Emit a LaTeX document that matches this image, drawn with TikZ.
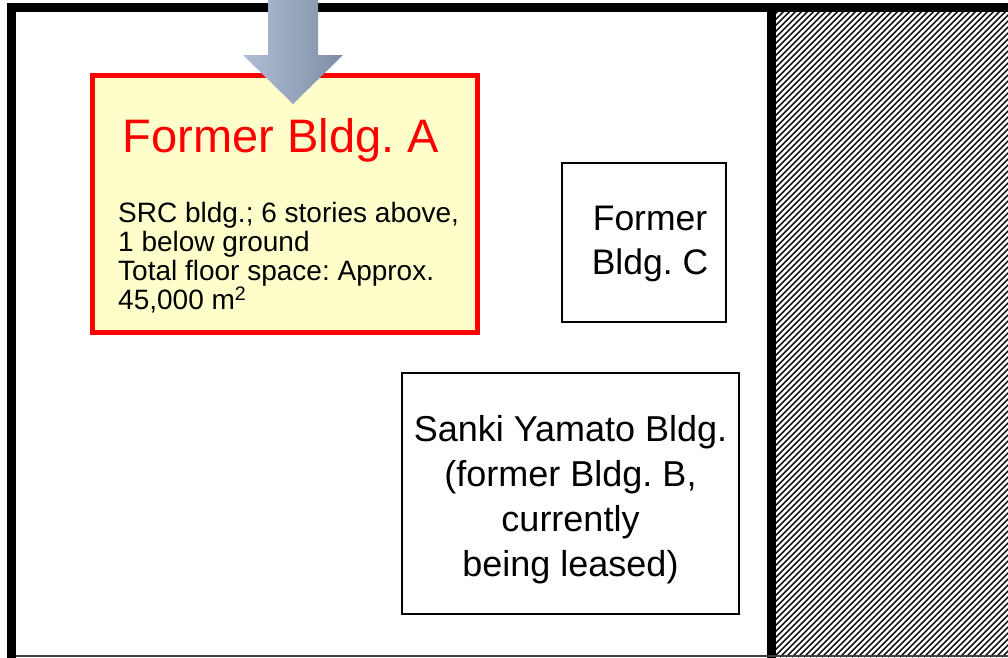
\documentclass[tikz,border=0pt]{standalone}
\usepackage{fontspec}
\setmainfont{Liberation Sans}
\usepackage[x11names, rgb]{xcolor}
\frenchspacing

\begin{document}
\begin{tikzpicture}[x=1pt, y=-1pt]

\definecolor{bldg_red}{HTML}{FF0000}
\definecolor{bldg_yellow}{HTML}{FFFFCC}
\definecolor{arrow_light}{HTML}{CCDBF2}
\definecolor{arrow_left}{HTML}{B0BFD6}
\definecolor{arrow_right}{HTML}{7F8DA3}

\tikzset{
  plainbox/.style={draw=black, line width=1.5pt, fill=white, inner sep=0pt},
  boxtext/.style={font=\fontsize{36}{45}\selectfont, align=center, inner sep=0pt}
}

\useasboundingbox (0,0) rectangle (1008,657);

% hatched area on the right
\begin{scope}
\clip (776,11) rectangle (1008,657);
\foreach \i in {120,126,...,1010}
  \draw[line width=1.4pt] (\i,657) -- ++(700,-700);
\end{scope}

% site frame
\draw[line width=9pt] (1012,7.5) -- (11.5,7.5) -- (11.5,660);
\draw[line width=9pt] (771.5,3) -- (771.5,660);
\draw[line width=2pt, black!75] (16,655.5) -- (1008,655.5);

% former building A
\node[draw=bldg_red, line width=5pt, fill=bldg_yellow, minimum width=385pt, minimum height=257pt, inner sep=0pt] (bldgA) at (285,203.5) {};
\node[anchor=base, text=bldg_red, font=\fontsize{47}{56}\selectfont, inner sep=0pt] (titleA) at (281,152) {Former Bldg. A};
\node[anchor=north west, align=left, font=\fontsize{28}{29}\selectfont, inner sep=0pt] (infoA) at (118,202) {SRC bldg.; 6 stories above,\\1 below ground\\Total floor space: Approx.\\45,000 m\textsuperscript{2}};

% former building C
\node[plainbox, minimum width=164pt, minimum height=159pt] (bldgC) at (644,242.5) {};
\node[boxtext, font=\fontsize{35.5}{44}\selectfont] (textC) at ([xshift=6pt, yshift=-1pt]bldgC.center) {Former\\Bldg. C};

% Sanki Yamato building
\node[plainbox, minimum width=337pt, minimum height=241pt] (sanki) at (570.5,493.5) {};
\node[boxtext] (sankiText) at ([yshift=-6pt]sanki.center) {Sanki Yamato Bldg.\\(former Bldg. B,\\currently\\being leased)};

% arrow pointing at building A
\shade[left color=arrow_left, middle color=arrow_light, right color=arrow_right]
  (268,-5) -- (318,-5) -- (318,55) -- (343,55) -- (293,104) -- (243,55) -- (268,55) -- cycle;

\end{tikzpicture}
\end{document}
